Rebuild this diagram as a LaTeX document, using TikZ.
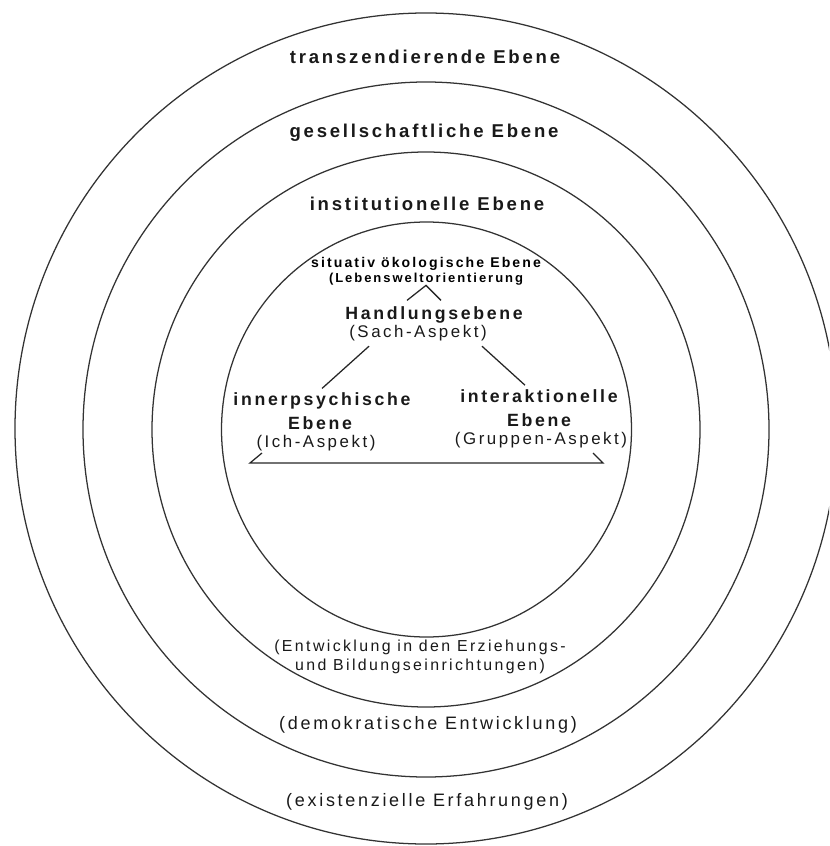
\documentclass[tikz,border=0pt]{standalone}
\usepackage{fontspec}
\usetikzlibrary{calc}
\newfontfamily\ebenefont[LetterSpace=15]{Liberation Sans}

\begin{document}
\begin{tikzpicture}[x=0.025cm,y=-0.025cm,
    ring/.style={draw=black!80,line width=0.9pt},
    link/.style={draw=black!85,line width=0.9pt},
    outerlevel/.style={inner sep=0pt,text=black!90,font=\ebenefont\bfseries\fontsize{13.2}{15}\selectfont},
    innerlevel/.style={inner sep=0pt,text=black!90,font=\ebenefont\bfseries\fontsize{12.6}{14}\selectfont},
    aspect/.style={inner sep=0pt,text=black!90,font=\ebenefont\fontsize{12}{14}\selectfont},
    outcome/.style={inner sep=0pt,text=black!90,font=\ebenefont\fontsize{12.8}{14}\selectfont},
    smalllevel/.style={inner sep=0pt,text=black,font=\ebenefont\bfseries\fontsize{10}{12}\selectfont}]
  \useasboundingbox (0,0) rectangle (829,846);
  \clip (0,0) rectangle (829,846);

  % Four nested rings
  \draw[ring] (426,428.5) ellipse [x radius=411,y radius=415.5];
  \draw[ring] (426,429.5) ellipse [x radius=343,y radius=347.5];
  \draw[ring] (426,429.5) ellipse [x radius=274,y radius=277.5];
  \draw[ring] (426.5,429.5) ellipse [x radius=205,y radius=207.5];

  % Ring titles
  \node[outerlevel] (transz) at (425,57) {transzendierende Ebene};
  \node[outerlevel] (gesell) at (424,133) {gesellschaftliche Ebene};
  \node[outerlevel] (instit) at (427,204) {institutionelle Ebene};

  % Inner circle
  \node[smalllevel] (situativ) at (426,264) {situativ ökologische Ebene};
  \node[smalllevel,font=\ebenefont\bfseries\fontsize{9.25}{11}\selectfont] (leben) at (426,279) {(Lebensweltorientierung};
  \node[innerlevel] (handlung) at (434,315) {Handlungsebene};
  \node[aspect] (sach) at (418,333) {(Sach-Aspekt)};
  \node[innerlevel] (innerA) at (322,401) {innerpsychische};
  \node[innerlevel] (innerB) at (320,423) {Ebene};
  \node[aspect] (ich) at (316,443) {(Ich-Aspekt)};
  \node[innerlevel] (interA) at (539,396) {interaktionelle};
  \node[innerlevel] (interB) at (539,420) {Ebene};
  \node[aspect] (gruppen) at (541,440) {(Gruppen-Aspekt)};

  % Triangle of the three aspects
  \draw[link] ($(leben.south)+(-19,15)$) -- (leben.south) -- ($(leben.south)+(15,15)$);
  \draw[link] ([shift={(20,5)}]sach.south west) -- ([shift={(0,-4)}]innerA.north);
  \draw[link] ([shift={(-5,5)}]sach.south east) -- ([shift={(-14,-4)}]interA.north);
  \coordinate (brL) at (250,463);
  \coordinate (brR) at (603,463);
  \draw[link] ([shift={(12,-10)}]brL) -- (brL) -- (brR) -- ([shift={(-10,-10)}]brR);

  % Developments below
  \node[outcome,font=\ebenefont\fontsize{11.3}{13.5}\selectfont,align=center] (erzieh) at (420,657) {(Entwicklung in den Erziehungs-\\und Bildungseinrichtungen)};
  \node[outcome] (demokr) at (428,725) {(demokratische Entwicklung)};
  \node[outcome] (existenz) at (427,802) {(existenzielle Erfahrungen)};
\end{tikzpicture}
\end{document}
